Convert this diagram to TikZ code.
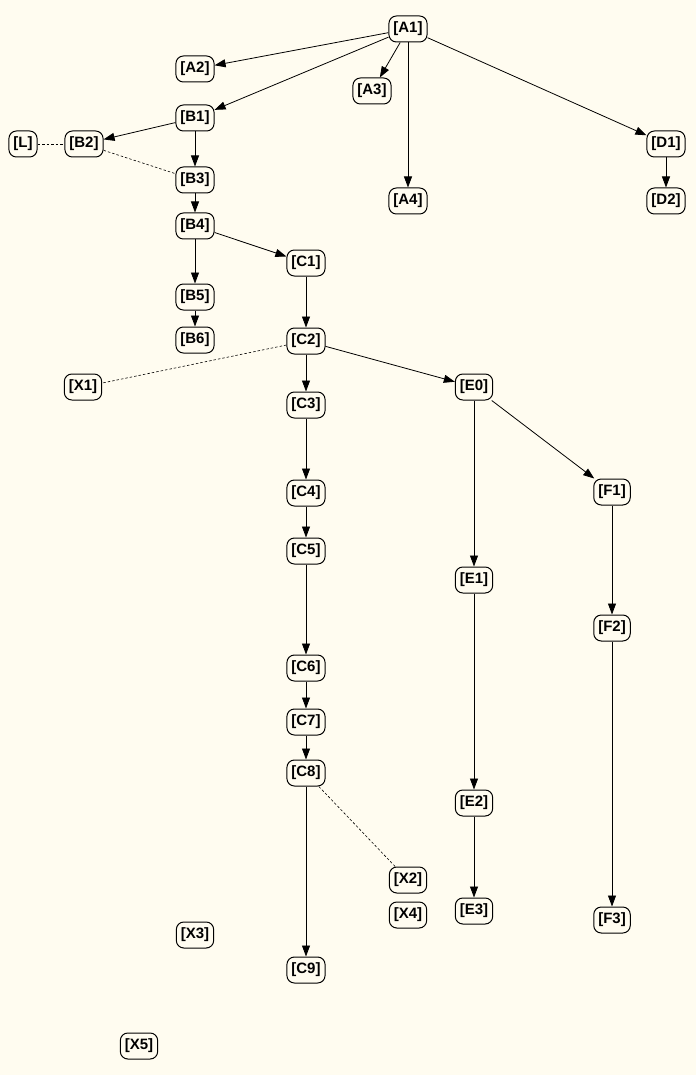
\documentclass[tikz,border=0pt]{standalone}
\usepackage{fontspec}
\setmainfont{Liberation Sans}
\usetikzlibrary{arrows.meta}
\definecolor{bg}{RGB}{255,252,240}
\begin{document}
\begin{tikzpicture}[x=1pt,y=-1pt,
  nd/.style={draw=black, line width=1pt, rounded corners=7.5pt, fill=bg,
    minimum height=26pt, inner xsep=4.5pt, inner ysep=0pt,
    font=\fontsize{15}{15}\selectfont\bfseries},
  arr/.style={draw=black, line width=0.8pt, -{Triangle[length=11pt,width=8pt]}},
  dsh/.style={draw=black, line width=0.6pt, dash pattern=on 2.5pt off 2pt}]
\fill[bg] (0,0) rectangle (696,1075);
\useasboundingbox (0,0) rectangle (696,1075);
\node[nd] (A1) at (408,29) {[A1]};
\node[nd] (A2) at (195,69) {[A2]};
\node[nd] (A3) at (372,91) {[A3]};
\node[nd] (B1) at (195,118) {[B1]};
\node[nd] (L) at (23,144) {[L]};
\node[nd] (B2) at (84,144) {[B2]};
\node[nd] (B3) at (195,180) {[B3]};
\node[nd] (A4) at (408,201) {[A4]};
\node[nd] (D1) at (666,144) {[D1]};
\node[nd] (D2) at (666,201) {[D2]};
\node[nd] (B4) at (195,226) {[B4]};
\node[nd] (C1) at (306,263) {[C1]};
\node[nd] (B5) at (195,297) {[B5]};
\node[nd] (B6) at (195,340) {[B6]};
\node[nd] (C2) at (306,341) {[C2]};
\node[nd] (X1) at (83,387) {[X1]};
\node[nd] (C3) at (306,405) {[C3]};
\node[nd] (E0) at (474,387) {[E0]};
\node[nd] (C4) at (306,493) {[C4]};
\node[nd] (F1) at (612,492) {[F1]};
\node[nd] (C5) at (306,551) {[C5]};
\node[nd] (E1) at (474,580) {[E1]};
\node[nd] (F2) at (612,628) {[F2]};
\node[nd] (C6) at (306,668) {[C6]};
\node[nd] (C7) at (306,722) {[C7]};
\node[nd] (C8) at (306,773) {[C8]};
\node[nd] (E2) at (474,803) {[E2]};
\node[nd] (X2) at (408,880) {[X2]};
\node[nd] (X4) at (408,915) {[X4]};
\node[nd] (E3) at (474,911) {[E3]};
\node[nd] (F3) at (612,920) {[F3]};
\node[nd] (X3) at (195,935) {[X3]};
\node[nd] (C9) at (306,970) {[C9]};
\node[nd] (X5) at (139,1046) {[X5]};
\foreach \a/\b in {A1/A2,A1/B1,A1/A3,A1/A4,A1/D1,D1/D2,B1/B2,B1/B3,B3/B4,
  B4/B5,B5/B6,B4/C1,C1/C2,C2/C3,C2/E0,C3/C4,C4/C5,C5/C6,C6/C7,C7/C8,C8/C9,
  E0/E1,E0/F1,E1/E2,E2/E3,F1/F2,F2/F3}
  \draw[arr] (\a) -- (\b);
\draw[dsh] (L) -- (B2);
\draw[dsh] (B2) -- (B3);
\draw[dsh] (C2) -- (X1);
\draw[dsh] (C8) -- (X2);
\end{tikzpicture}
\end{document}
